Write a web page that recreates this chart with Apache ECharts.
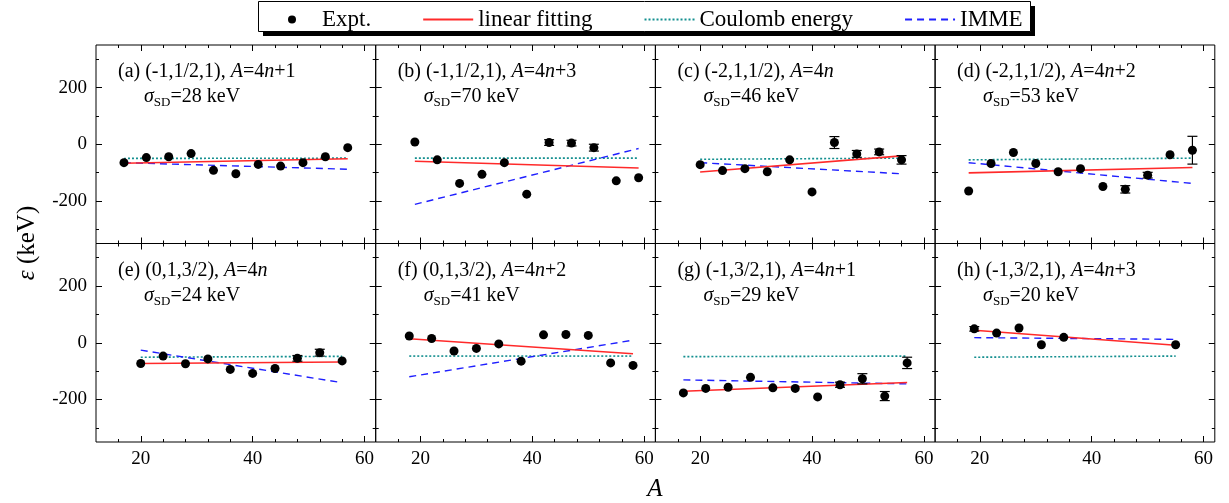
<!DOCTYPE html>
<html>
<head>
<meta charset="utf-8">
<script src="https://cdn.jsdelivr.net/npm/echarts@6/dist/echarts.min.js"></script>
<style>
html, body { margin: 0; padding: 0; background: #fff; }
#main { width: 1229px; height: 503px; }
</style>
</head>
<body>
<div id="main"></div>
<script>
var serif = '"Liberation Serif", "Times New Roman", serif';

// panel captions
var panelTag = ['(a) (-1,1/2,1), ', '(b) (-1,1/2,1), ', '(c) (-2,1,1/2), ', '(d) (-2,1,1/2), ',
                '(e) (0,1,3/2), ', '(f) (0,1,3/2), ', '(g) (-1,3/2,1), ', '(h) (-1,3/2,1), '];
var panelMod = ['+1', '+3', '', '+2', '', '+2', '+1', '+3'];
var sigmaSD = [28, 70, 46, 53, 24, 41, 29, 20];

// tick values
var xMajor = [20, 40, 60];
var xMinor = [16, 24, 28, 32, 36, 44, 48, 52, 56];
var yMajor = [-200, 0, 200];
var yMinor = [-300, -100, 100, 300];

// mass number A of each point
var massA = [
  [17, 21, 25, 29, 33, 37, 41, 45, 49, 53, 57],
  [19, 23, 27, 31, 35, 39, 43, 47, 51, 55, 59],
  [20, 24, 28, 32, 36, 40, 44, 48, 52, 56],
  [18, 22, 26, 30, 34, 38, 42, 46, 50, 54, 58],
  [20, 24, 28, 32, 36, 40, 44, 48, 52, 56],
  [18, 22, 26, 30, 34, 38, 42, 46, 50, 54, 58],
  [17, 21, 25, 29, 33, 37, 41, 45, 49, 53, 57],
  [19, 23, 27, 31, 35, 55]
];
// experimental epsilon (keV)
var expt = [
  [-65, -47, -44, -33, -92, -104, -71, -77, -65, -44, -12],
  [8, -55, -138, -106, -65, -176, 6, 4, -12, -129, -118],
  [-72, -93, -86, -97, -55, -168, 6, -34, -27, -55],
  [-165, -68, -29, -68, -97, -86, -149, -159, -109, -37, -21],
  [-73, -47, -74, -57, -94, -108, -91, -55, -35, -64],
  [24, 15, -29, -20, -4, -65, 28, 29, 26, -71, -80],
  [-177, -161, -157, -122, -159, -161, -191, -148, -127, -188, -71],
  [49, 34, 52, -7, 19, -7]
];
// error bars (keV), 0 = hidden behind the dot
var exptErr = [
  [0, 0, 0, 0, 0, 0, 0, 0, 0, 0, 0],
  [0, 0, 0, 0, 0, 0, 10, 10, 12, 0, 0],
  [0, 0, 0, 0, 0, 0, 21, 12, 10, 15],
  [0, 0, 0, 0, 0, 0, 0, 13, 10, 0, 49],
  [0, 0, 0, 0, 0, 0, 0, 10, 12, 0],
  [0, 0, 0, 0, 0, 0, 0, 0, 0, 0, 0],
  [0, 0, 0, 0, 0, 0, 0, 9, 18, 16, 20],
  [8, 0, 0, 0, 0, 0]
];
// line end points [A, eps]
var fitLine = [
  [[17, -67], [57, -51]], [[19, -60], [59, -84]], [[20, -98], [56, -41]], [[18, -101], [58, -82]],
  [[20, -73], [56, -68]], [[18, 14], [58, -39]], [[17, -171], [57, -140]], [[19, 44], [55, -9]]
];
var coulomb = [
  [[17, -50], [57, -49]], [[19, -49], [59, -49]], [[20, -53], [56, -49]], [[18, -55], [58, -49]],
  [[20, -51], [56, -48]], [[18, -47], [58, -47]], [[17, -49], [57, -47]], [[19, -51], [55, -47]]
];
var imme = [
  [[17, -65], [57, -88]], [[19, -212], [59, -15]], [[20, -65], [56, -104]], [[18, -65], [58, -138]],
  [[20, -26], [56, -141]], [[18, -120], [58, 9]], [[17, -131], [57, -145]], [[19, 18], [55, 12]]
];

var colLeft = [96, 375.7, 655.4, 935.1], colW = 279.7;
var rowTop = [45, 243.5], rowH = 198.5;

var cRed = '#ff2a2a', cTeal = '#138f8f', cBlue = '#1f1fff';

var grids = [], xAxes = [], yAxes = [], series = [], texts = [];

function xAx(i, pos, vals, len, label) {
  return {
    type: 'value', gridIndex: i, min: 12, max: 62, position: pos,
    axisLine: {show: false, onZero: false},
    splitLine: {show: false},
    axisTick: {show: true, inside: true, length: len, customValues: vals, lineStyle: {color: '#000', width: 1}},
    axisLabel: {show: label, customValues: vals, margin: 8, color: '#000', fontSize: 19, fontFamily: serif}
  };
}
function yAx(i, pos, vals, len, label) {
  return {
    type: 'value', gridIndex: i, min: -350, max: 350, position: pos,
    axisLine: {show: false, onZero: false},
    splitLine: {show: false},
    axisTick: {show: true, inside: true, length: len, customValues: vals, lineStyle: {color: '#000', width: 1}},
    axisLabel: {show: label, customValues: vals, margin: 9, color: '#000', fontSize: 19, fontFamily: serif}
  };
}

var rich = {
  r: {fontFamily: serif, fontSize: 20, color: '#000'},
  i: {fontFamily: serif, fontSize: 20, fontStyle: 'italic', color: '#000'},
  sub: {fontFamily: serif, fontSize: 13, color: '#000', verticalAlign: 'bottom', padding: [12, 0, 0, 0]}
};

for (var i = 0; i < 8; i++) {
  var c = i % 4, r = Math.floor(i / 4);
  grids.push({
    left: colLeft[c], top: rowTop[r], width: colW, height: rowH,
    show: true, borderColor: '#000', borderWidth: 1, backgroundColor: 'transparent'
  });
  xAxes.push(xAx(i, 'bottom', xMajor, 6, r === 1));
  xAxes.push(xAx(i, 'bottom', xMinor, 3, false));
  xAxes.push(xAx(i, 'top', xMajor, 6, false));
  xAxes.push(xAx(i, 'top', xMinor, 3, false));
  yAxes.push(yAx(i, 'left', yMajor, 6, c === 0));
  yAxes.push(yAx(i, 'left', yMinor, 3, false));
  yAxes.push(yAx(i, 'right', yMajor, 6, false));
  yAxes.push(yAx(i, 'right', yMinor, 3, false));

  var ax = 4 * i;
  series.push({
    name: 'Coulomb energy', type: 'line', xAxisIndex: ax, yAxisIndex: ax,
    data: coulomb[i], symbol: 'none', silent: true, z: 2,
    itemStyle: {color: cTeal},
    lineStyle: {color: cTeal, width: 1.6, type: [2, 2]}
  });
  series.push({
    name: 'IMME', type: 'line', xAxisIndex: ax, yAxisIndex: ax,
    data: imme[i], symbol: 'none', silent: true, z: 2,
    itemStyle: {color: cBlue},
    lineStyle: {color: cBlue, width: 1.4, type: [7, 5]}
  });
  series.push({
    name: 'linear fitting', type: 'line', xAxisIndex: ax, yAxisIndex: ax,
    data: fitLine[i], symbol: 'none', silent: true, z: 3,
    itemStyle: {color: cRed},
    lineStyle: {color: cRed, width: 1.6}
  });
  var pts = massA[i].map(function (a, k) { return [a, expt[i][k], exptErr[i][k]]; });
  series.push({
    name: 'err', type: 'custom', xAxisIndex: ax, yAxisIndex: ax, silent: true, z: 4,
    data: pts.filter(function (d) { return d[2] > 0; }),
    encode: {x: 0, y: 1},
    renderItem: function (params, api) {
      var x = api.value(0), y = api.value(1), e = api.value(2);
      var hi = api.coord([x, y + e]), lo = api.coord([x, y - e]), w = 5;
      var st = {stroke: '#000', lineWidth: 1.2};
      return {type: 'group', children: [
        {type: 'line', shape: {x1: hi[0], y1: hi[1], x2: lo[0], y2: lo[1]}, style: st},
        {type: 'line', shape: {x1: hi[0] - w, y1: hi[1], x2: hi[0] + w, y2: hi[1]}, style: st},
        {type: 'line', shape: {x1: lo[0] - w, y1: lo[1], x2: lo[0] + w, y2: lo[1]}, style: st}
      ]};
    }
  });
  series.push({
    name: 'Expt.', type: 'scatter', xAxisIndex: ax, yAxisIndex: ax,
    data: pts.map(function (d) { return [d[0], d[1]]; }),
    symbol: 'circle', symbolSize: 9, silent: true, z: 5,
    itemStyle: {color: '#000', opacity: 1}
  });

  texts.push({
    type: 'text', x: colLeft[c] + 22, y: rowTop[r] + 27,
    style: {
      text: '{r|' + panelTag[i] + '}{i|A}{r|=4}{i|n}{r|' + panelMod[i] + '}',
      rich: rich, verticalAlign: 'middle'
    }
  });
  texts.push({
    type: 'text', x: colLeft[c] + 48, y: rowTop[r] + 52,
    style: {
      text: '{i|σ}{sub|SD}{r|=' + sigmaSD[i] + ' keV}',
      rich: rich, verticalAlign: 'middle'
    }
  });
}

// legend frame with drop shadow
var frame = [
  {type: 'rect', shape: {x: 263, y: 6, width: 772, height: 30}, style: {fill: '#000'}, z: 0},
  {type: 'rect', shape: {x: 258.5, y: 1.5, width: 772, height: 30}, style: {fill: '#fff', stroke: '#000', lineWidth: 1}, z: 1}
];
var names = [
  {type: 'text', x: 27, y: 243, rotation: Math.PI / 2,
   style: {text: '{e|ε} (keV)', align: 'center', verticalAlign: 'middle',
     rich: {e: {fontFamily: serif, fontSize: 25, fontStyle: 'italic', color: '#000'}},
     fontFamily: serif, fontSize: 25, fill: '#000'}},
  {type: 'text', x: 655, y: 489,
   style: {text: 'A', align: 'center', verticalAlign: 'middle', fontFamily: serif, fontSize: 25, fontStyle: 'italic', fill: '#000'}}
];

var noDot = {opacity: 0};
var chart = echarts.init(document.getElementById('main'));
chart.setOption({
  animation: false,
  backgroundColor: '#fff',
  legend: {
    data: [
      {name: 'Expt.', icon: 'circle'},
      {name: 'linear fitting', itemStyle: noDot},
      {name: 'Coulomb energy', itemStyle: noDot},
      {name: 'IMME', itemStyle: noDot}
    ],
    left: 283, top: 3, itemWidth: 50, itemHeight: 8, itemGap: 51, z: 10,
    textStyle: {fontFamily: serif, fontSize: 23, color: '#000'}
  },
  grid: grids,
  xAxis: xAxes,
  yAxis: yAxes,
  series: series,
  graphic: frame.concat(texts, names)
});
</script>
</body>
</html>
